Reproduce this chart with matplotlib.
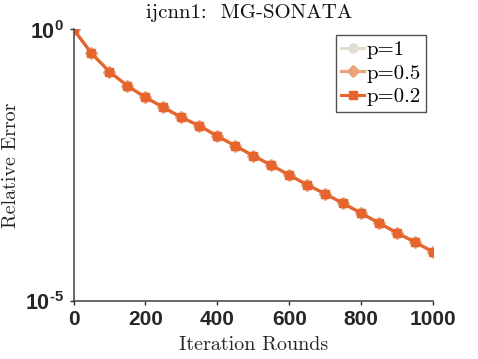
import matplotlib
matplotlib.use("Agg")
import matplotlib.pyplot as plt
import numpy as np

plt.rcParams['mathtext.fontset'] = 'custom'
plt.rcParams['mathtext.rm'] = 'Liberation Sans:bold'
plt.rcParams['mathtext.bf'] = 'Liberation Sans:bold'
plt.rcParams['mathtext.it'] = 'Liberation Sans:bold'

iters = [0, 50, 100, 150, 200, 250, 300, 350, 400, 450, 500,
         550, 600, 650, 700, 750, 800, 850, 900, 950, 1000]
log_err = [0.0, -0.442, -0.781, -1.039, -1.252, -1.436, -1.621, -1.775, -1.965, -2.144, -2.328,
           -2.499, -2.683, -2.862, -3.028, -3.204, -3.383, -3.567, -3.746, -3.917, -4.096]
err_p1 = [10 ** v for v in log_err]
err_p05 = [10 ** v for v in log_err]
err_p02 = [10 ** v for v in log_err]

labels = ['p=1', 'p=0.5', 'p=0.2']
colors = ['#E3DCD2', '#E8A477', '#E8642D']

fig = plt.figure(figsize=(4.78, 3.59), dpi=100)
ax = fig.add_axes([73.5 / 478, 1 - 301 / 359, (433 - 73.5) / 478, (301 - 29.3) / 359])

ax.plot(iters, err_p1, color=colors[0], marker='o', markersize=6.5, lw=2.2, label=labels[0])
ax.plot(iters, err_p05, color=colors[1], marker='D', markersize=5.8, lw=2.2, label=labels[1])
ax.plot(iters, err_p02, color=colors[2], marker='s', markersize=6.2, lw=2.2, label=labels[2])

ax.set_yscale('log')
ax.set_xlim(0, 1000)
ax.set_ylim(1e-5, 1)
ax.set_xticks([0, 200, 400, 600, 800, 1000])
ax.set_xticklabels(['0', '200', '400', '600', '800', '1000'],
                   fontfamily='Liberation Sans', fontweight='bold', fontsize=15)
ax.set_yticks([1e-5, 1])
ax.set_yticklabels([r'$10^{\text{-}5}$', r'$10^{0}$'], fontsize=15.5)
ax.yaxis.set_minor_locator(matplotlib.ticker.NullLocator())

for s in ['top', 'right']:
    ax.spines[s].set_visible(False)
for s in ['left', 'bottom']:
    ax.spines[s].set_color('#404040')
    ax.spines[s].set_linewidth(1.1)
ax.tick_params(colors='#262626', direction='out', length=3, width=1)
ax.tick_params(axis='x', pad=3.6)
ax.tick_params(axis='y', pad=4)

ax.set_xlabel('Iteration Rounds', fontfamily='cmr10', fontsize=14.5, color='#262626', labelpad=5)
fig.text(11 / 478, 1 - 165 / 359, 'Relative Error', fontfamily='cmr10', fontsize=14.4,
         color='#262626', rotation=90, ha='center', va='center')
fig.text(249 / 478, 1 - 12.5 / 359, 'ijcnn1:  MG-SONATA', fontfamily='cmr10', fontsize=15,
         ha='center', va='center', color='#111111')

leg = ax.legend(loc='upper right', bbox_to_anchor=((425.7 - 73.5) / (433 - 73.5), (301 - 35) / (301 - 29.3)),
                prop={'family': 'cmr10', 'size': 15}, frameon=True, fancybox=False,
                edgecolor='#262626', handlelength=1.1, handletextpad=0.1, labelspacing=0.25,
                borderpad=0.25, borderaxespad=0)
leg.get_frame().set_linewidth(1.0)

fig.savefig('out.png', dpi=100)
